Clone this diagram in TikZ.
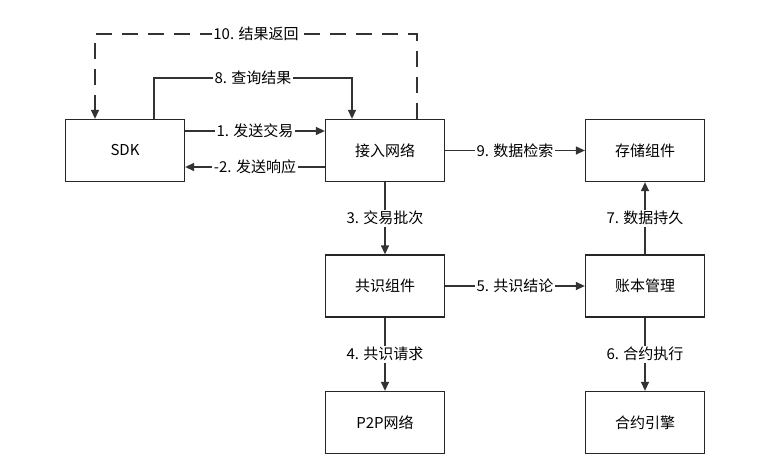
\documentclass[tikz,border=0pt]{standalone}
\usepackage{fontspec}
\setmainfont{Noto Sans CJK SC}
\usetikzlibrary{arrows.meta}
\newcommand{\lblfont}{\fontsize{15}{17}\selectfont}

\begin{document}
\begin{tikzpicture}[x=1pt,y=-1pt,
   blk/.style={draw=black!85,line width=1.3pt,minimum width=119pt,minimum height=62pt,font=\lblfont},
   lnk/.style={draw=black!80,line width=1.3pt,-{Triangle[length=9pt,width=8pt]}},
   lbl/.style={fill=white,inner sep=1.5pt,font=\lblfont}]
   \useasboundingbox[fill=white] (0,0) rectangle (774,471);
   \node[blk] (sdk)     at (125,150.5) {SDK};
   \node[blk] (access)  at (385,150.5) {接入网络};
   \node[blk] (store)   at (645,150.5) {存储组件};
   \node[blk] (cons)    at (385,286)   {共识组件};
   \node[blk] (ledger)  at (645,286)   {账本管理};
   \node[blk] (ptp)     at (385,422.5) {P2P网络};
   \node[blk] (engine)  at (645,422.5) {合约引擎};
   \draw[lnk] ([yshift=19.5pt]sdk.east) -- node[lbl] {1. 发送交易} ([yshift=19.5pt]access.west);
   \draw[lnk] ([yshift=-16.5pt]access.west) -- node[lbl] {-2. 发送响应} ([yshift=-16.5pt]sdk.east);
   \draw[lnk] (access) -- node[lbl] {3. 交易批次} (cons);
   \draw[lnk] (cons) -- node[lbl] {4. 共识请求} (ptp);
   \draw[lnk] (cons) -- node[lbl] {5. 共识结论} (ledger);
   \draw[lnk] (ledger) -- node[lbl] {6. 合约执行} (engine);
   \draw[lnk] (ledger) -- node[lbl] {7. 数据持久} (store);
   \draw[lnk] (access) -- node[lbl] {9. 数据检索} (store);
   \draw[lnk] ([xshift=29pt]sdk.north) -- ++(0,-41) -| node[lbl,pos=0.25] {8. 查询结果} ([xshift=-33pt]access.north);
   \draw[lnk,dash pattern=on 16pt off 10pt] ([xshift=32pt]access.north) -- ++(0,-85) -| node[lbl,pos=0.25] {10. 结果返回} ([xshift=-30pt]sdk.north);
\end{tikzpicture}
\end{document}
